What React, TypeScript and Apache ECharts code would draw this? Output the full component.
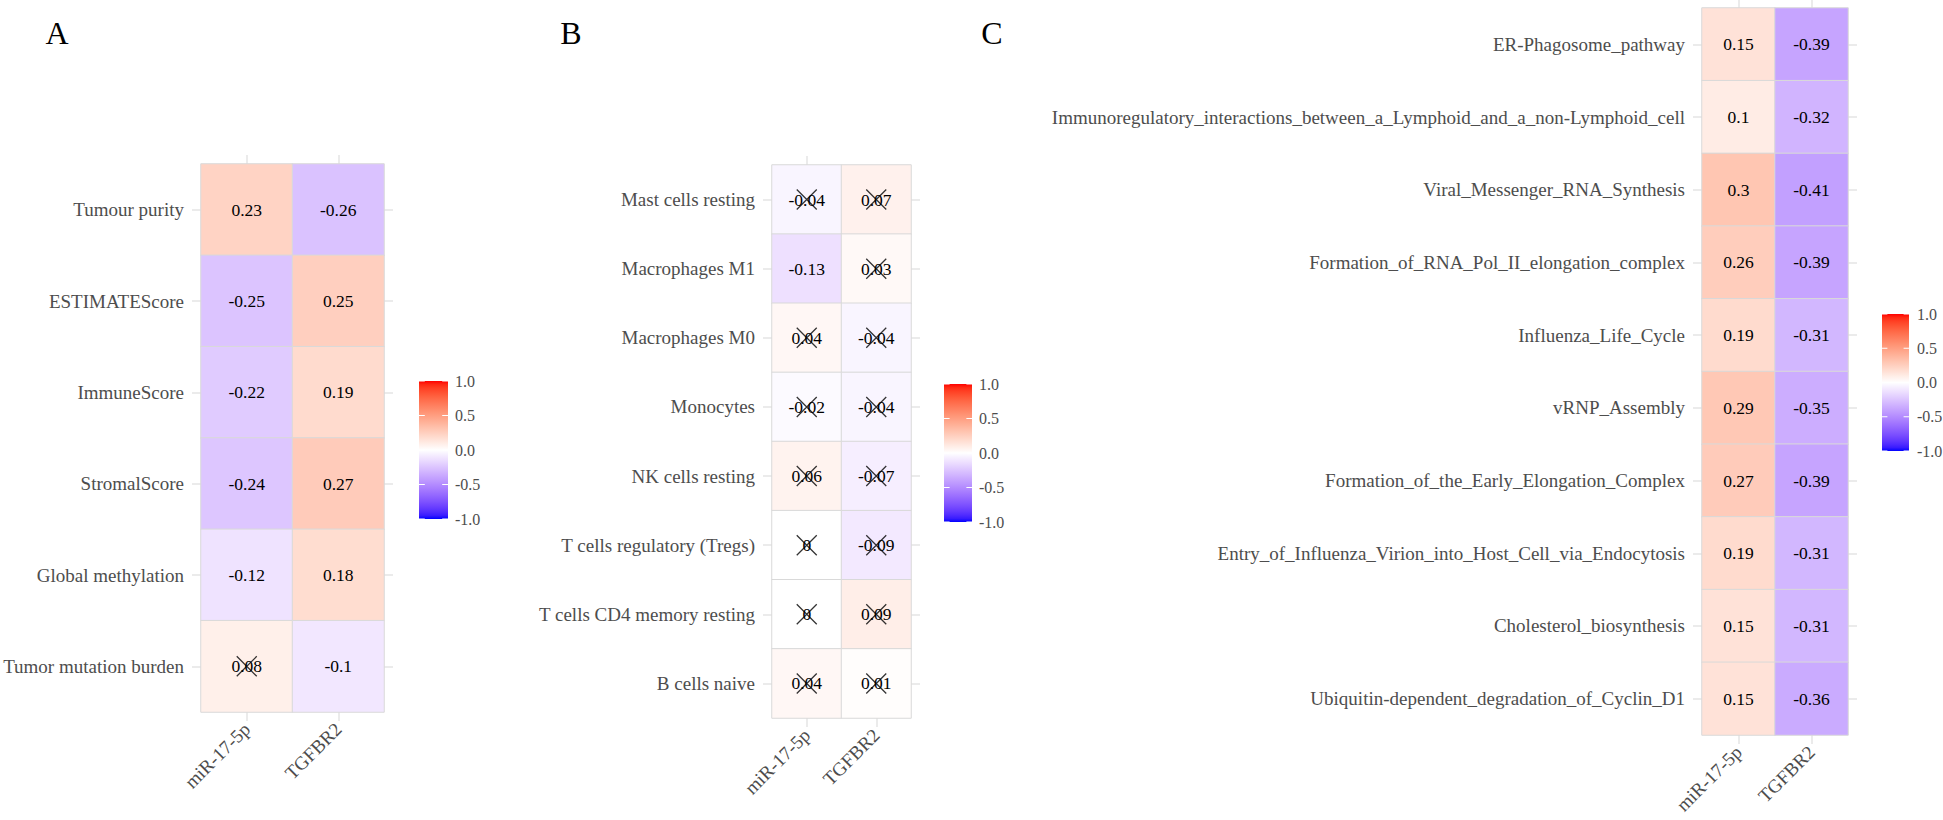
import React, { useEffect, useRef } from "react";
import * as echarts from "echarts";

// ---------- data ----------
const genes = ["miR-17-5p", "TGFBR2"];

const aRows = ["Tumour purity", "ESTIMATEScore", "ImmuneScore", "StromalScore", "Global methylation", "Tumor mutation burden"];
const aMir = [0.23, -0.25, -0.22, -0.24, -0.12, 0.08];
const aTgf = [-0.26, 0.25, 0.19, 0.27, 0.18, -0.1];
const aMirCross = [false, false, false, false, false, true];
const aTgfCross = [false, false, false, false, false, false];

const bRows = ["Mast cells resting", "Macrophages M1", "Macrophages M0", "Monocytes", "NK cells resting", "T cells regulatory (Tregs)", "T cells CD4 memory resting", "B cells naive"];
const bMir = [-0.04, -0.13, 0.04, -0.02, 0.06, 0, 0, 0.04];
const bTgf = [0.07, 0.03, -0.04, -0.04, -0.07, -0.09, 0.09, 0.01];
const bMirCross = [true, false, true, true, true, true, true, true];
const bTgfCross = [true, true, true, true, true, true, true, true];

const cRows = [
  "ER-Phagosome_pathway",
  "Immunoregulatory_interactions_between_a_Lymphoid_and_a_non-Lymphoid_cell",
  "Viral_Messenger_RNA_Synthesis",
  "Formation_of_RNA_Pol_II_elongation_complex",
  "Influenza_Life_Cycle",
  "vRNP_Assembly",
  "Formation_of_the_Early_Elongation_Complex",
  "Entry_of_Influenza_Virion_into_Host_Cell_via_Endocytosis",
  "Cholesterol_biosynthesis",
  "Ubiquitin-dependent_degradation_of_Cyclin_D1",
];
const cMir = [0.15, 0.1, 0.3, 0.26, 0.19, 0.29, 0.27, 0.19, 0.15, 0.15];
const cTgf = [-0.39, -0.32, -0.41, -0.39, -0.31, -0.35, -0.39, -0.31, -0.31, -0.36];
const cMirCross = cRows.map(() => false);
const cTgfCross = cRows.map(() => false);

const legendValues = [1, 0.5, 0, -0.5, -1];
const legendLabels = ["1.0", "0.5", "0.0", "-0.5", "-1.0"];

// ---------- colour scale (ggplot gradient2, Lab interpolation) ----------
function rgb2lab(c: number[]) {
  const lin = (v: number) => { v /= 255; return v <= 0.04045 ? v / 12.92 : Math.pow((v + 0.055) / 1.055, 2.4); };
  const R = lin(c[0]), G = lin(c[1]), B = lin(c[2]);
  const X = (R * 0.4124564 + G * 0.3575761 + B * 0.1804375) / 0.95047;
  const Y = R * 0.2126729 + G * 0.7151522 + B * 0.072175;
  const Z = (R * 0.0193339 + G * 0.119192 + B * 0.9503041) / 1.08883;
  const f = (t: number) => (t > 216 / 24389 ? Math.cbrt(t) : (24389 / 27 * t + 16) / 116);
  const fx = f(X), fy = f(Y), fz = f(Z);
  return [116 * fy - 16, 500 * (fx - fy), 200 * (fy - fz)];
}
function lab2hex(l: number[]) {
  const fy = (l[0] + 16) / 116, fx = fy + l[1] / 500, fz = fy - l[2] / 200;
  const inv = (t: number) => (t * t * t > 216 / 24389 ? t * t * t : (116 * t - 16) / (24389 / 27));
  const X = inv(fx) * 0.95047, Y = inv(fy), Z = inv(fz) * 1.08883;
  const r = 3.2404542 * X - 1.5371385 * Y - 0.4985314 * Z;
  const g = -0.969266 * X + 1.8760108 * Y + 0.041556 * Z;
  const b = 0.0556434 * X - 0.2040259 * Y + 1.0572252 * Z;
  const gam = (v: number) => {
    v = v <= 0.0031308 ? 12.92 * v : 1.055 * Math.pow(v, 1 / 2.4) - 0.055;
    const n = Math.round(Math.min(1, Math.max(0, v)) * 255);
    return n.toString(16).padStart(2, "0");
  };
  return "#" + gam(r) + gam(g) + gam(b);
}
const LOW = rgb2lab([0, 0, 255]);
const MID = rgb2lab([255, 255, 255]);
const HIGH = rgb2lab([255, 0, 0]);
function colorAt(v: number) {
  const t = Math.abs(v);
  const end = v < 0 ? LOW : HIGH;
  return lab2hex([0, 1, 2].map((i) => MID[i] + (end[i] - MID[i]) * t));
}
const NSTOP = 40;
const scaleColors: string[] = [];
for (let i = 0; i <= NSTOP; i++) scaleColors.push(colorAt(-1 + (2 * i) / NSTOP));

// ---------- layout ----------
const FONT = "Liberation Serif";
const panels = [
  { rows: aRows, mir: aMir, tgf: aTgf, mirX: aMirCross, tgfX: aTgfCross,
    grid: { left: 201, top: 164, width: 183, height: 548 },
    leg: { x: 419, y: 381, w: 29, h: 138, lx: 455 }, letter: "A", letterX: 57 },
  { rows: bRows, mir: bMir, tgf: bTgf, mirX: bMirCross, tgfX: bTgfCross,
    grid: { left: 772, top: 165, width: 139, height: 553 },
    leg: { x: 944, y: 384, w: 28, h: 138, lx: 979 }, letter: "B", letterX: 571 },
  { rows: cRows, mir: cMir, tgf: cTgf, mirX: cMirCross, tgfX: cTgfCross,
    grid: { left: 1702, top: 8, width: 146, height: 727 },
    leg: { x: 1882, y: 314, w: 27, h: 137, lx: 1917 }, letter: "C", letterX: 992 },
];

const tickStyle = { show: true, alignWithLabel: true, length: 9, lineStyle: { color: "#EBEBEB", width: 2 } };

function buildOption() {
  const grid: any[] = [];
  const xAxis: any[] = [];
  const yAxis: any[] = [];
  const series: any[] = [];
  const graphic: any[] = [];
  const heatIdx: number[] = [];

  panels.forEach((p, i) => {
    grid.push({ ...p.grid, containLabel: false });
    xAxis.push({
      type: "category", data: genes, gridIndex: i, position: "bottom",
      axisLine: { show: false }, axisTick: tickStyle, splitLine: { show: false },
      axisLabel: { rotate: 45, margin: 14, color: "#4D4D4D", fontFamily: FONT, fontSize: 19 },
    });
    xAxis.push({
      type: "category", data: genes, gridIndex: i, position: "top",
      axisLine: { show: false }, axisTick: tickStyle, axisLabel: { show: false }, splitLine: { show: false },
    });
    yAxis.push({
      type: "category", data: p.rows, gridIndex: i, inverse: true, position: "left",
      axisLine: { show: false }, axisTick: tickStyle, splitLine: { show: false },
      axisLabel: { margin: 17, color: "#4D4D4D", fontFamily: FONT, fontSize: 19 },
    });
    yAxis.push({
      type: "category", data: p.rows, gridIndex: i, inverse: true, position: "right",
      axisLine: { show: false }, axisTick: tickStyle, axisLabel: { show: false }, splitLine: { show: false },
    });

    const heat: any[] = [];
    const cross: any[] = [];
    p.rows.forEach((r, ri) => {
      heat.push([0, ri, p.mir[ri]]);
      heat.push([1, ri, p.tgf[ri]]);
      if (p.mirX[ri]) cross.push([0, ri]);
      if (p.tgfX[ri]) cross.push([1, ri]);
    });
    heatIdx.push(series.length);
    series.push({
      type: "heatmap", xAxisIndex: 2 * i, yAxisIndex: 2 * i, data: heat,
      itemStyle: { borderColor: "#D9D9D9", borderWidth: 1 },
      label: {
        show: true, color: "#000", fontFamily: FONT, fontSize: 17.5,
        formatter: (q: any) => String(q.value[2]),
      },
      emphasis: { disabled: true },
    });
    series.push({
      type: "scatter", xAxisIndex: 2 * i, yAxisIndex: 2 * i, data: cross, z: 5,
      symbol: "path://M0,0L10,10M10,0L0,10", symbolSize: 20,
      itemStyle: { color: "transparent", borderColor: "#000", borderWidth: 1.3 },
      emphasis: { disabled: true }, silent: true,
    });

    // panel letter
    graphic.push({
      type: "text", x: p.letterX, y: 33,
      style: { text: p.letter, fontFamily: FONT, fontSize: 32, fill: "#000", align: "center", verticalAlign: "middle" },
    });
    // colour bar legend (top = +1 red, bottom = -1 blue)
    const L = p.leg;
    const stops = scaleColors.map((_, k) => ({ offset: k / NSTOP, color: scaleColors[NSTOP - k] }));
    graphic.push({
      type: "rect", shape: { x: L.x, y: L.y, width: L.w, height: L.h },
      style: { fill: new echarts.graphic.LinearGradient(0, 0, 0, 1, stops) },
    });
    legendValues.forEach((v, k) => {
      const ty = L.y + ((1 - v) / 2) * L.h;
      graphic.push({ type: "line", shape: { x1: L.x, y1: ty, x2: L.x + L.w / 5, y2: ty }, style: { stroke: "#fff", lineWidth: 1 } });
      graphic.push({ type: "line", shape: { x1: L.x + L.w - L.w / 5, y1: ty, x2: L.x + L.w, y2: ty }, style: { stroke: "#fff", lineWidth: 1 } });
      graphic.push({
        type: "text", x: L.lx, y: ty,
        style: { text: legendLabels[k], fontFamily: FONT, fontSize: 16, fill: "#4D4D4D", align: "left", verticalAlign: "middle" },
      });
    });
  });

  return {
    animation: false,
    backgroundColor: "#fff",
    grid, xAxis, yAxis, series, graphic,
    visualMap: {
      type: "continuous", show: false, min: -1, max: 1, dimension: 2,
      seriesIndex: heatIdx, inRange: { color: scaleColors },
    },
  };
}

export default function App() {
  const ref = useRef<HTMLDivElement>(null);
  useEffect(() => {
    document.body.style.margin = "0";
    const chart = echarts.init(ref.current as HTMLDivElement, null, { renderer: "svg" });
    chart.setOption(buildOption() as any);
    return () => chart.dispose();
  }, []);
  return <div ref={ref} style={{ width: 1943, height: 820 }} />;
}
